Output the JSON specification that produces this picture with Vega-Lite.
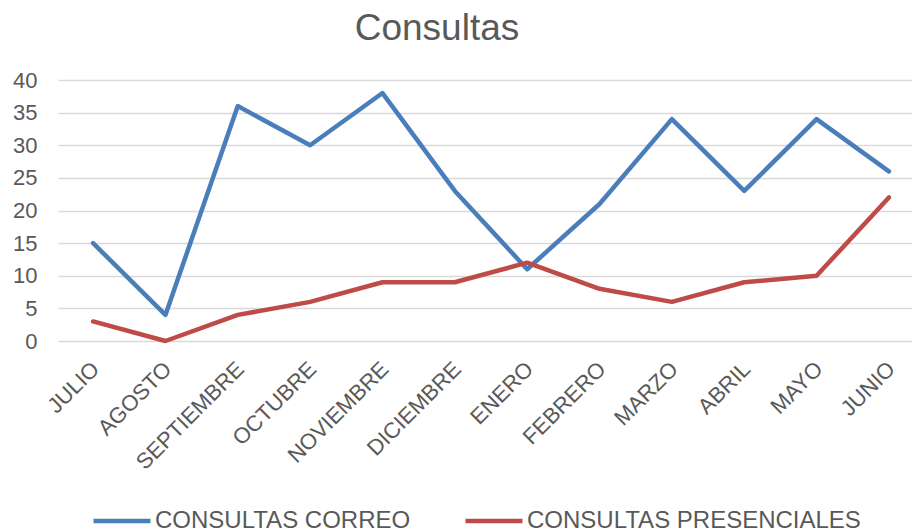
{
  "$schema": "https://vega.github.io/schema/vega-lite/v6.json",
  "width": 866,
  "height": 261,
  "autosize": {"type": "none"},
  "padding": {"left": 58, "top": 80, "right": 0, "bottom": 191},
  "background": "white",
  "title": {
    "text": "Consultas",
    "font": "Liberation Sans",
    "fontSize": 37,
    "fontWeight": "normal",
    "color": "#595959",
    "anchor": "middle",
    "dx": -54,
    "offset": 21
  },
  "config": {
    "view": {"stroke": null},
    "font": "Liberation Sans"
  },
  "data": {
    "values": [
      {"mes": "JULIO", "serie": "CONSULTAS CORREO", "valor": 15},
      {"mes": "AGOSTO", "serie": "CONSULTAS CORREO", "valor": 4},
      {"mes": "SEPTIEMBRE", "serie": "CONSULTAS CORREO", "valor": 36},
      {"mes": "OCTUBRE", "serie": "CONSULTAS CORREO", "valor": 30},
      {"mes": "NOVIEMBRE", "serie": "CONSULTAS CORREO", "valor": 38},
      {"mes": "DICIEMBRE", "serie": "CONSULTAS CORREO", "valor": 23},
      {"mes": "ENERO", "serie": "CONSULTAS CORREO", "valor": 11},
      {"mes": "FEBRERO", "serie": "CONSULTAS CORREO", "valor": 21},
      {"mes": "MARZO", "serie": "CONSULTAS CORREO", "valor": 34},
      {"mes": "ABRIL", "serie": "CONSULTAS CORREO", "valor": 23},
      {"mes": "MAYO", "serie": "CONSULTAS CORREO", "valor": 34},
      {"mes": "JUNIO", "serie": "CONSULTAS CORREO", "valor": 26},
      {"mes": "JULIO", "serie": "CONSULTAS PRESENCIALES", "valor": 3},
      {"mes": "AGOSTO", "serie": "CONSULTAS PRESENCIALES", "valor": 0},
      {"mes": "SEPTIEMBRE", "serie": "CONSULTAS PRESENCIALES", "valor": 4},
      {"mes": "OCTUBRE", "serie": "CONSULTAS PRESENCIALES", "valor": 6},
      {"mes": "NOVIEMBRE", "serie": "CONSULTAS PRESENCIALES", "valor": 9},
      {"mes": "DICIEMBRE", "serie": "CONSULTAS PRESENCIALES", "valor": 9},
      {"mes": "ENERO", "serie": "CONSULTAS PRESENCIALES", "valor": 12},
      {"mes": "FEBRERO", "serie": "CONSULTAS PRESENCIALES", "valor": 8},
      {"mes": "MARZO", "serie": "CONSULTAS PRESENCIALES", "valor": 6},
      {"mes": "ABRIL", "serie": "CONSULTAS PRESENCIALES", "valor": 9},
      {"mes": "MAYO", "serie": "CONSULTAS PRESENCIALES", "valor": 10},
      {"mes": "JUNIO", "serie": "CONSULTAS PRESENCIALES", "valor": 22}
    ]
  },
  "mark": {"type": "line", "strokeWidth": 4.5, "strokeCap": "round", "strokeJoin": "round"},
  "encoding": {
    "x": {
      "field": "mes",
      "type": "nominal",
      "sort": null,
      "scale": {"type": "point", "padding": 0.485},
      "axis": {
        "title": null,
        "domain": false,
        "ticks": false,
        "grid": false,
        "labelAngle": -45,
        "labelFont": "Liberation Sans",
        "labelFontSize": 22,
        "labelColor": "#595959",
        "labelPadding": 17,
        "labelOffset": -5
      }
    },
    "y": {
      "field": "valor",
      "type": "quantitative",
      "scale": {"domain": [0, 40], "nice": false},
      "axis": {
        "title": null,
        "values": [0, 5, 10, 15, 20, 25, 30, 35, 40],
        "domain": false,
        "ticks": false,
        "grid": true,
        "gridColor": "#d9d9d9",
        "gridWidth": 1.5,
        "labelFont": "Liberation Sans",
        "labelFontSize": 22,
        "labelColor": "#595959",
        "labelPadding": 21
      }
    },
    "color": {
      "field": "serie",
      "type": "nominal",
      "scale": {
        "domain": ["CONSULTAS CORREO", "CONSULTAS PRESENCIALES"],
        "range": ["#4a7ebb", "#be4b48"]
      },
      "legend": {
        "title": null,
        "orient": "none",
        "direction": "horizontal",
        "legendX": 33,
        "legendY": 410,
        "symbolType": "stroke",
        "symbolSize": 3249,
        "symbolStrokeWidth": 4.5,
        "labelFont": "Liberation Sans",
        "labelFontSize": 24,
        "labelColor": "#595959",
        "labelOffset": 2,
        "labelLimit": 500,
        "columnPadding": 45
      }
    }
  }
}
